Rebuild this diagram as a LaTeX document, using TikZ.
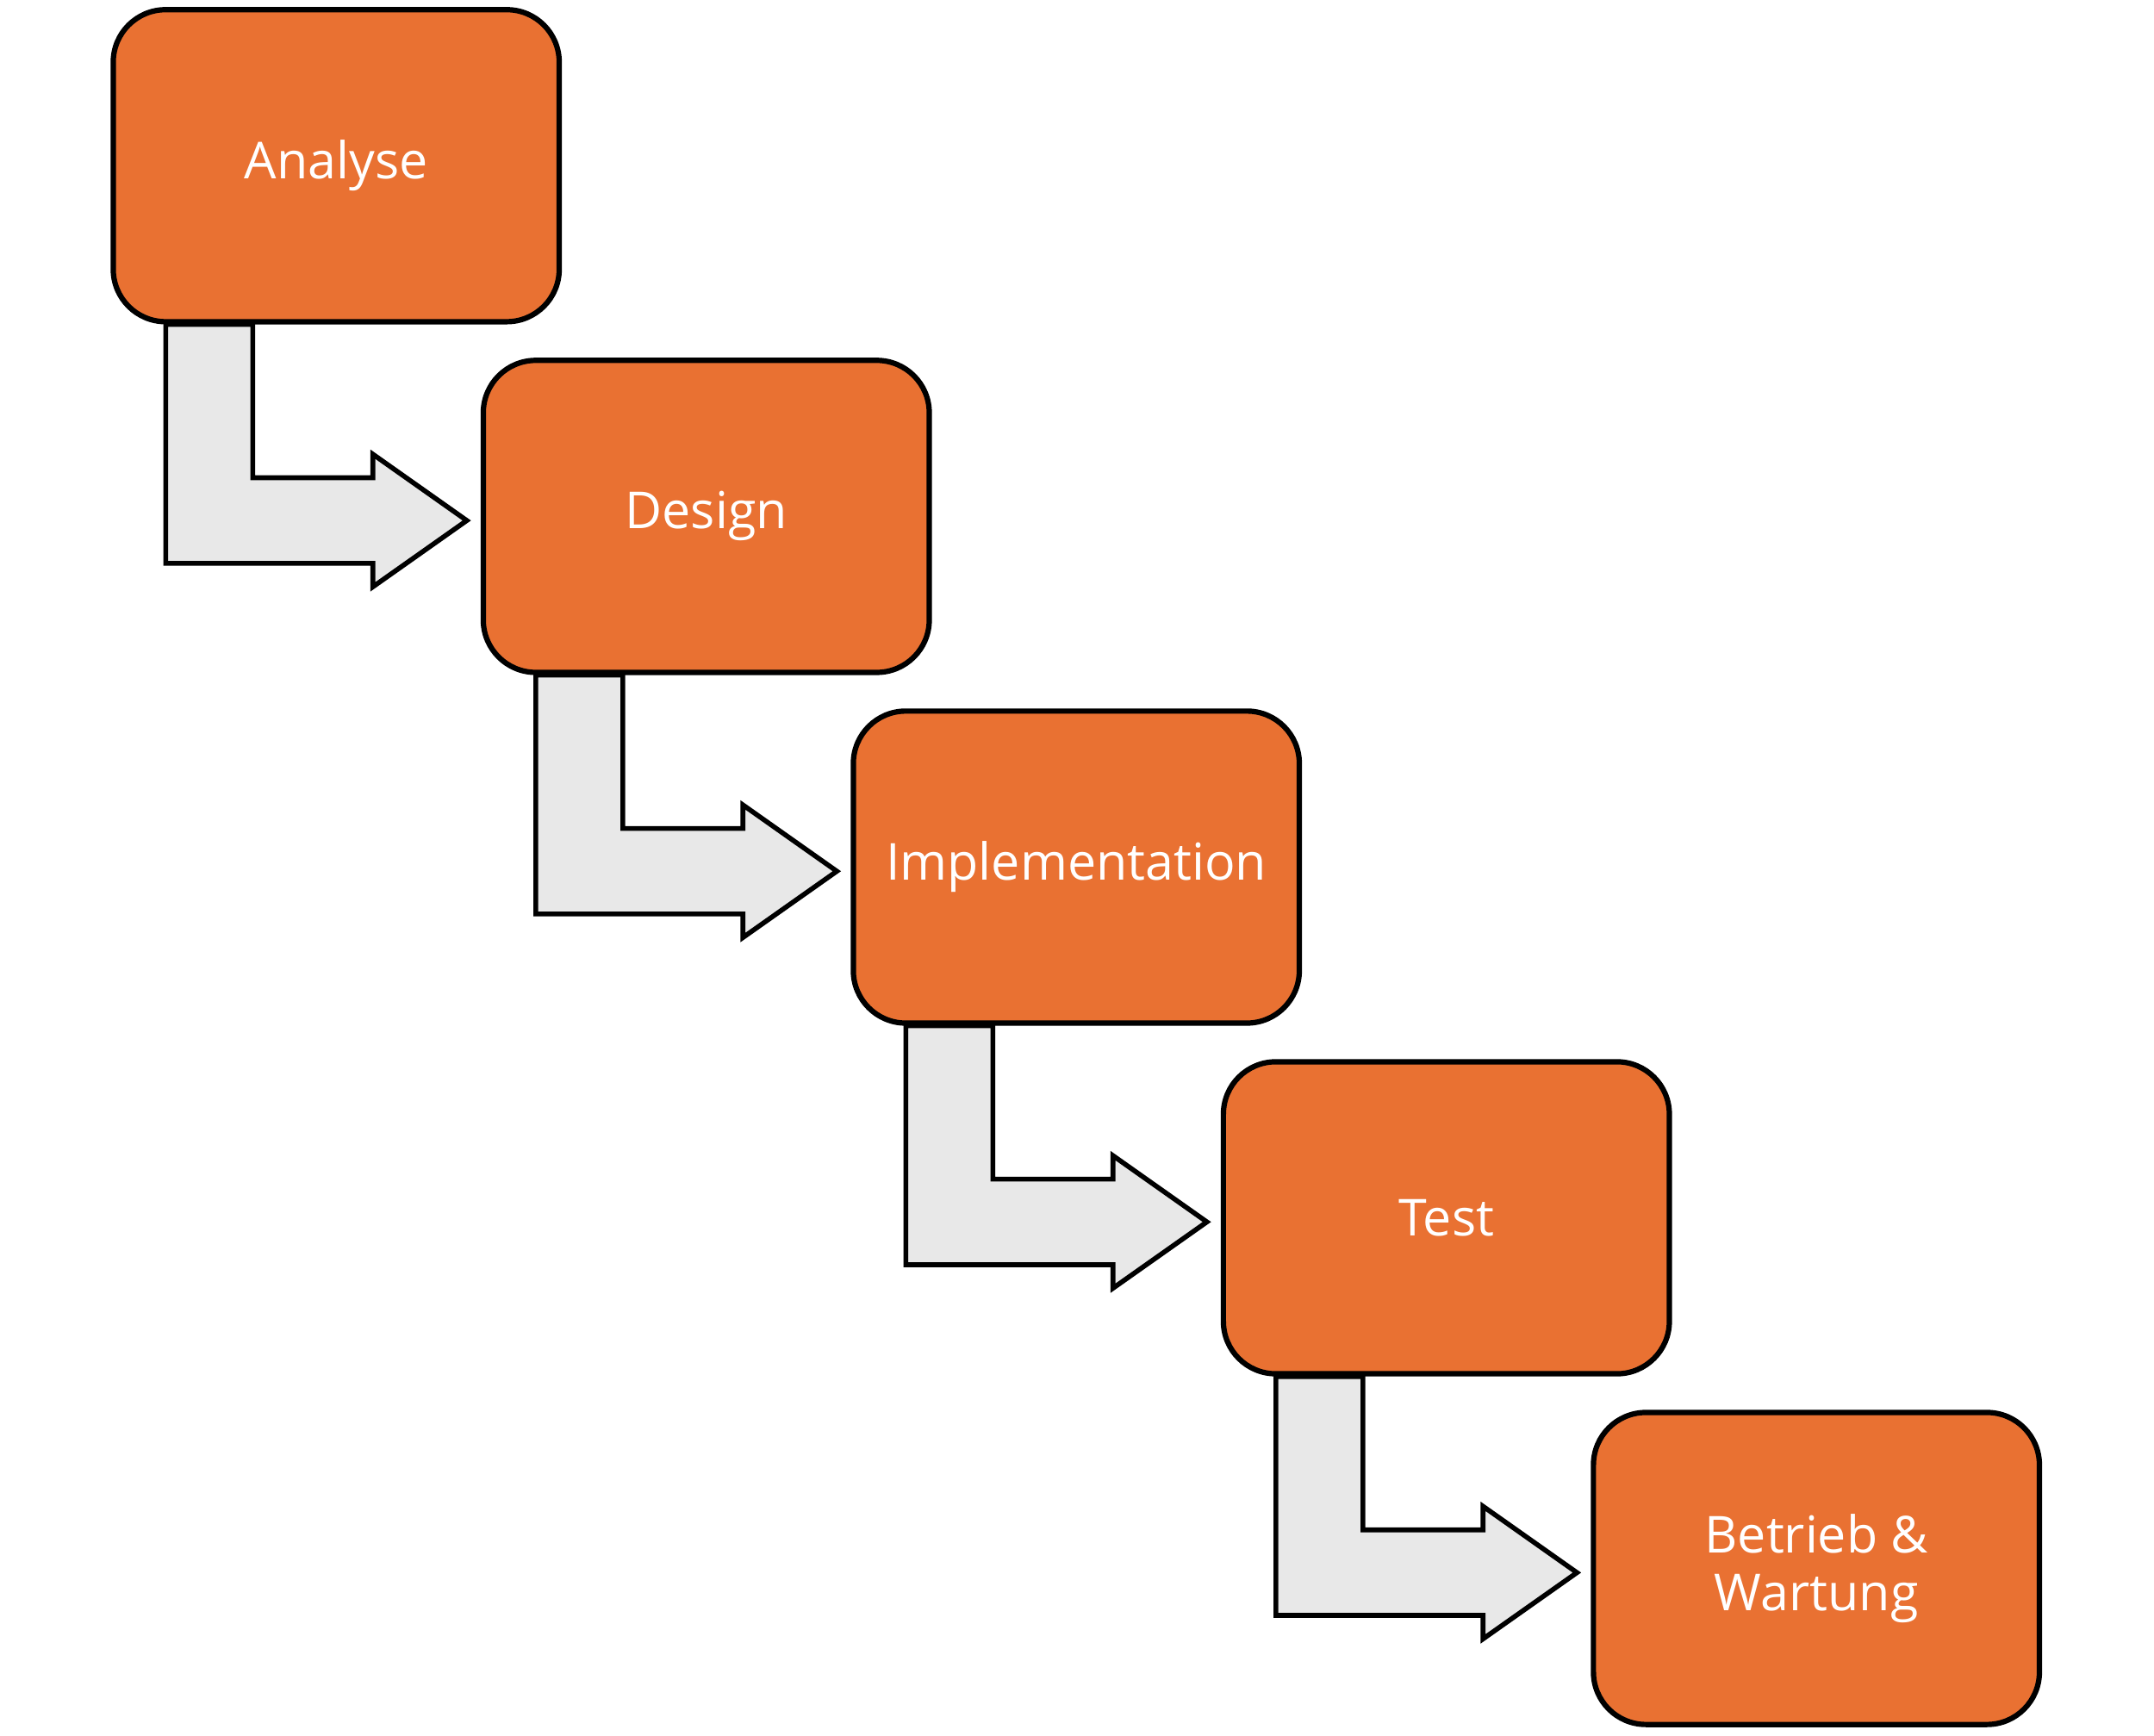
\documentclass[tikz,border=0pt]{standalone}
\usepackage{fontspec}
\setmainfont{Open Sans}
\usetikzlibrary{calc,positioning,backgrounds}
\definecolor{phaseorange}{HTML}{E97132}
\definecolor{arrowgray}{HTML}{E8E8E8}
\tikzstyle{phase} = [draw, line width=1.1pt, fill=phaseorange, rectangle, rounded corners=0.38cm,
	minimum height=2.26cm, minimum width=3.23cm, text=white, align=center,
	font=\fontsize{10.5}{12}\selectfont]
\tikzstyle{bent} = [draw, line width=1pt, fill=arrowgray, line join=miter]
% bent block arrow from the bottom of #1 to the left side of #2
\newcommand{\steparrow}[2]{%
	\draw[bent] let \p1 = (#1.south west), \p2 = ($(#2.west)+(0,-0.03)$) in
		(\x1+0.40cm,\y1) -- (\x1+0.40cm,\y2-0.31cm) -- (\x2-0.78cm,\y2-0.31cm)
		-- (\x2-0.78cm,\y2-0.48cm) -- (\x2-0.10cm,\y2) -- (\x2-0.78cm,\y2+0.48cm)
		-- (\x2-0.78cm,\y2+0.31cm) -- (\x1+1.03cm,\y2+0.31cm) -- (\x1+1.03cm,\y1) -- cycle;}
\begin{document}
\begin{tikzpicture}[node distance=2.54cm]
	\useasboundingbox (0,0) rectangle (15.6,-12.568);
	\node [phase] (ana) at (2.435,-1.20) {Analyse};
	\node [phase, below of=ana, xshift=2.68cm] (des) {Design};
	\node [phase, below of=des, xshift=2.68cm] (imp) {Implementation};
	\node [phase, below of=imp, xshift=2.68cm] (tst) {Test};
	\node [phase, below of=tst, xshift=2.68cm] (bw) {Betrieb \&\\Wartung};

	\begin{scope}[on background layer]
		\steparrow{ana}{des}
		\steparrow{des}{imp}
		\steparrow{imp}{tst}
		\steparrow{tst}{bw}
	\end{scope}
\end{tikzpicture}
\end{document}
